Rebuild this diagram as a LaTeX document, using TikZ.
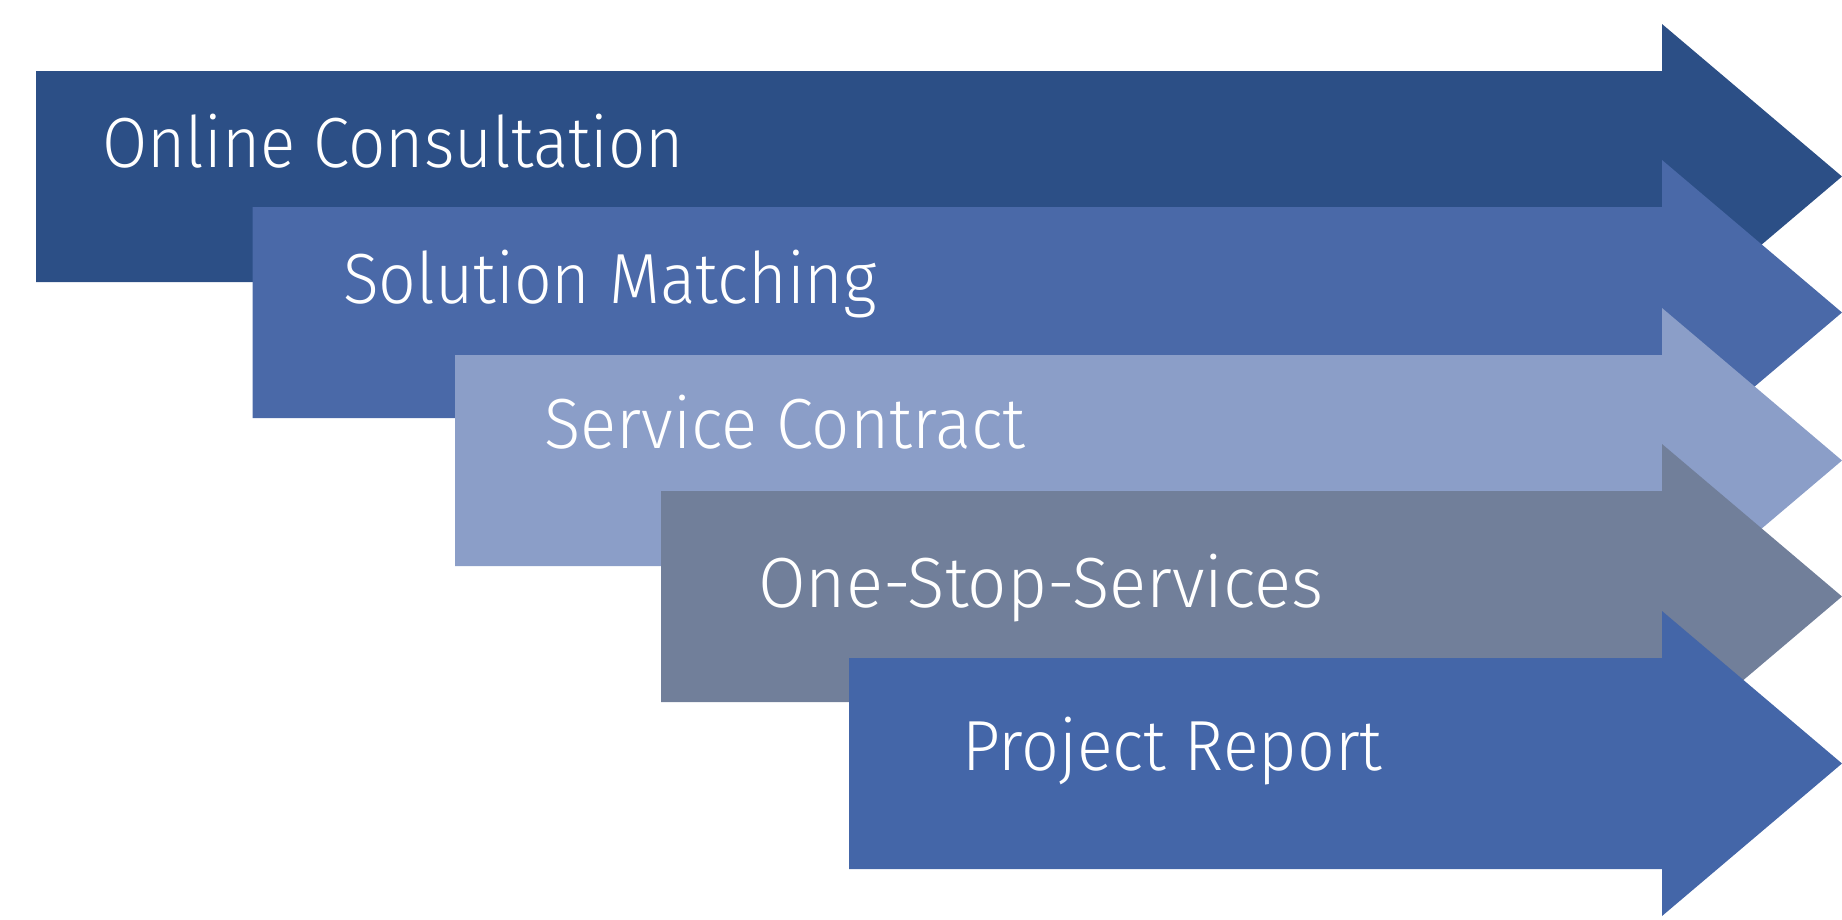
\documentclass[tikz,border=0pt]{standalone}
\usepackage{graphicx}
\usepackage{fontspec}
\IfFontExistsTF{Fira Sans Light}{\setmainfont{Fira Sans Light}}{\setmainfont{Fira Sans}}
\definecolor{stepA}{HTML}{2C4F86}
\definecolor{stepB}{HTML}{4A69A8}
\definecolor{stepC}{HTML}{8B9EC8}
\definecolor{stepD}{HTML}{717F9A}
\definecolor{stepE}{HTML}{4466A8}
% one process arrow: body from the left edge to x=1662, head tip at x=1842
\newcommand\processarrow[3]{% #1 left, #2 top of body, #3 colour
  \fill[#3] (#1,#2) -- (1662,#2) -- (1662,#2-47) -- (1842,#2+105.5)
    -- (1662,#2+258) -- (1662,#2+211) -- (#1,#2+211) -- cycle;}
% slightly condensed white label text
\newcommand\narrowtext[2]{\scalebox{#1}[1]{#2}}
\begin{document}
\begin{tikzpicture}[x=1pt,y=-1pt,
  steplabel/.style={anchor=base west, inner sep=0pt, text=white,
    font=\fontsize{71}{80}\selectfont}]
\useasboundingbox (0,0) rectangle (1842,919);
\processarrow{36}{71}{stepA}
\processarrow{252.6}{207}{stepB}
\processarrow{455}{355}{stepC}
\processarrow{661}{491}{stepD}
\processarrow{849}{658}{stepE}
\node[steplabel] (s1) at (102,167) {\narrowtext{0.923}{Online Consultation}};
\node[steplabel] (s2) at (343,303) {\narrowtext{0.932}{Solution Matching}};
\node[steplabel] (s3) at (544,448) {\narrowtext{0.946}{Service Contract}};
\node[steplabel] (s4) at (758,607) {\narrowtext{0.972}{One-Stop-Services}};
\node[steplabel] (s5) at (962,770) {\narrowtext{0.934}{Project Report}};
\end{tikzpicture}
\end{document}
